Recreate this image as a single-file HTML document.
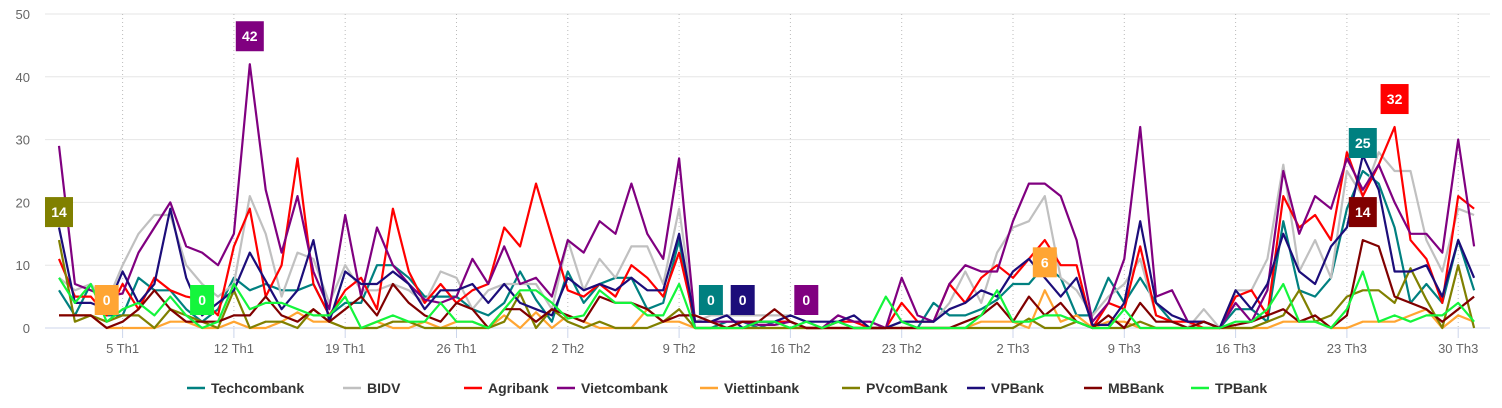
<!DOCTYPE html>
<html><head><meta charset="utf-8"><style>
body{margin:0;background:#fff;width:1502px;height:403px;overflow:hidden;font-family:"Liberation Sans",sans-serif}
svg text{font-family:"Liberation Sans",sans-serif}
</style></head><body>
<svg id="chart" width="1502" height="403" xmlns="http://www.w3.org/2000/svg"></svg>
<script>
const dateLabels=["5 Th1","12 Th1","19 Th1","26 Th1","2 Th2","9 Th2","16 Th2","23 Th2","2 Th3","9 Th3","16 Th3","23 Th3","30 Th3"];
const dateTickIdx=[4,11,18,25,32,39,46,53,60,67,74,81,88];
const yTicks=[0,10,20,30,40,50];
const seriesNames=["Techcombank","BIDV","Agribank","Vietcombank","Viettinbank","PVcomBank","VPBank","MBBank","TPBank"];
const seriesColors=["#008080","#c0c0c0","#ff0000","#800080","#ffa533","#808000","#1c0d7a","#800000","#14f53c"];
const techcombank=[6,2,7,2,2,8,6,6,3,1,3,8,6,7,6,6,7,2,4,4,10,10,8,5,5,5,3,2,4,9,4.5,1,9,4,7,8,8,3,4,14,0,0,1,1,0,1,1,0,0,1,0,0,0,1,0,4,2,2,3,4.5,7,7,10,8,2,2,8,4,8,4,1,0,1,0,3,3,1,17,6,5,8,19,25,23,16,4,7,4,14,6];
const bidv=[8,6,7,4,10,15,18,18,10,7,5,7,21,15,5,12,11,4,10,6,6,7,6,4,9,8,3,6,7,7,7,3,14,6,11,8,13,13,7,19,1,2,2,2,2,2,2,1,0,2,1,1,0,1,1,1,4,9,4,12,16,17,21,8,6,2,5,7,11,2,1,0,3,0,6,6,11,26,9,14,8,25,21,28,25,25,14,9,19,18];
const agribank=[11,5,5,2,7,3,8,6,5,4.5,2,13,19,5,10,27,7,2,6,8,3,19,9,4,7,4,6,7,16,13,23,14.5,6,5,7,5,10,8,5,12,1,1,0,1,1,1,1,0,0,1,1,0,0,4,1,1,7,4,8,10,8,11,14,10,10,0,4,3,13,2,1,1,0,0,5,6,2,21,16,18,14,28,21,26,32,14,11,4,21,19];
const vietcombank=[29,7,6,5,5.5,12,16,20,13,12,10,15,42,22,12,21,9,3,18,5,16,10,7,4.5,4,5,11,7,13,7,8,5,14,12,17,15,23,15,11,27,1,1,1,1,0.5,0.5,1,0,0,2,1,1,0,8,2,1,7,10,9,9,17,23,23,21,14,1,4,11,32,5,6,1,1,0,4,1,6,25,15,21,19,27,22,26,20,15,15,12,30,13];
const viettinbank=[2,2,2,0,0,0,0,1,1,0,0,1,0,0,1,2.5,1,1,0,0,1,0,0,1,0,1,1,0,2,0,2.5,0,2,1,0,0,0,3,1,1,0,0,0,0,0,0,0,0,0,0,0,0,0,0,0,0,0,0,1,1,1,0,6,1,2,0,1,1,0,0,0,0,0,0,0,0,0,1,1,1,0,0,1,1,1,2,3,0,2,1];
const pvcombank=[14,1,2,1,2,2,0,3,2,1,0,6,0,1,1,0,3,1,0,0,0,1,1,0,0,0,0,0,1,5.5,0,3,1,0,1,0,0,0,1,3,0,0,0,0,0,0,0,0,0,0,0,0,0,0,0,0,0,0,0,0,0,1.5,0,0,1,0,0,0,1,0,0,0,0,0,0,0,1,2,6,1,2,5,6,6,4,9.5,4.5,0,10,0];
const vpbank=[16,4,4,3,9,4,7,19,8,2,4,6,12,7.5,3,6,14,1,9,7,7,9,7,3,6,6,7,4,7,4,3,2,8,6,7,6,8,6,6,15,1,1,2,0,1,1,2,1,1,1,2,0,0,1,1,1,3,4,6,5,9,11,8,5,8,0.5,0.5,4,17,4,2,1,1,0,6,3,7,15,9,7,13,16,27.5,22,9,9,10,5,14,8];
const mbbank=[2,2,2,0,1,3,6,3,1,1,1,2,2,5,2,1,3,1,3,5,2,7,4,2,1,4,3,0,3,3,1,3,2,1,5,4,4,3,1,2,2,1,0,1,1,3,1,0,0,0,0,0,0,0,0,0,0,1,2,4,1,5,2,4,1,0,2,0,4,1,1,0,1,0,0.5,1,2,3,1,2,0,2,14,13,5,4,3,1,3,5];
const tpbank=[8,4,7,1,3,4,2,5,2,0,1,7,3,4,4,3,2,2,5,0,1,2,1,1,4,1,1,0,3,6,6,4,1.5,2,6,4,4,2,2,7,0,0,0,0,1,1,0,1,0,1,0,0,5,1,0,0,0,0,2,6,1,1,2,2,1,0,0,3,0,0,0,0,0,0,1,1,3,7,1,1,0,3,9,1,2,1,2,2,4,1];
const allSeries=[techcombank,bidv,agribank,vietcombank,viettinbank,pvcombank,vpbank,mbbank,tpbank];
const labelSeries=[5,4,8,3,0,6,3,4,0,7,2];
const labelIdx=[0,3,9,12,41,43,47,62,82,82,84];

const NS="http://www.w3.org/2000/svg";
const svg=document.getElementById('chart');
const X0=59,DX=15.9,Y0=328,YK=6.28;
function xs(i){return X0+i*DX;}
function ys(v){return Y0-v*YK;}
function mk(tag,attrs,parent){const e=document.createElementNS(NS,tag);for(const k in attrs)e.setAttribute(k,attrs[k]);(parent||svg).appendChild(e);return e;}

yTicks.forEach(v=>{
  const g=mk('line',{x1:45,x2:1490,y1:ys(v),y2:ys(v),stroke:v===0?'#ccd6eb':'#e6e6e6','stroke-width':1});
  
  
  const t=mk('text',{x:30,y:ys(v)+5,'text-anchor':'end','font-size':13,fill:'#666'});
  t.textContent=v;
  
  
});
dateTickIdx.forEach((ix,k)=>{
  const x=xs(ix);
  const d=mk('line',{x1:x,x2:x,y1:14,y2:328,stroke:'#bbb','stroke-width':1,'stroke-dasharray':'1,3'});
  
  
  const tk=mk('line',{x1:x,x2:x,y1:328,y2:338,stroke:'#ccd6eb','stroke-width':1});
  
  
  const t=mk('text',{x:x,y:353,'text-anchor':'middle','font-size':13,fill:'#666'});
  t.textContent=dateLabels[k];
  
  
});
allSeries.forEach((arr,s)=>{
  const pts=arr.map((v,i)=>xs(i).toFixed(1)+','+ys(v).toFixed(1)).join(' ');
  const p=mk('polyline',{points:pts,fill:'none',stroke:seriesColors[s],'stroke-width':2.2,'stroke-linejoin':'round'});
  
  
});
labelSeries.forEach((s,k)=>{
  const i=labelIdx[k],v=allSeries[s][i];
  const cx=xs(i),cy=ys(v)-28;
  const txt=String(Math.round(v));
  const w=txt.length>1?28:24;
  const r=mk('rect',{x:cx-w/2,y:cy-15,width:w,height:30,fill:seriesColors[s]});
  
  
  const t=mk('text',{x:cx,y:cy+5,'text-anchor':'middle','font-size':14,'font-weight':'bold',fill:'#fff'});
  t.textContent=txt;
  
  
});
const legX=[187,343,464,557,700,842,967,1084,1191];
seriesNames.forEach((n,s)=>{
  const l=mk('line',{x1:legX[s],x2:legX[s]+18,y1:388,y2:388,stroke:seriesColors[s],'stroke-width':2.5});
  
  
  const t=mk('text',{x:legX[s]+24,y:393,'font-size':14,'font-weight':'bold',fill:'#333'});
  t.textContent=n;
  
  
});
</script>
</body></html>
